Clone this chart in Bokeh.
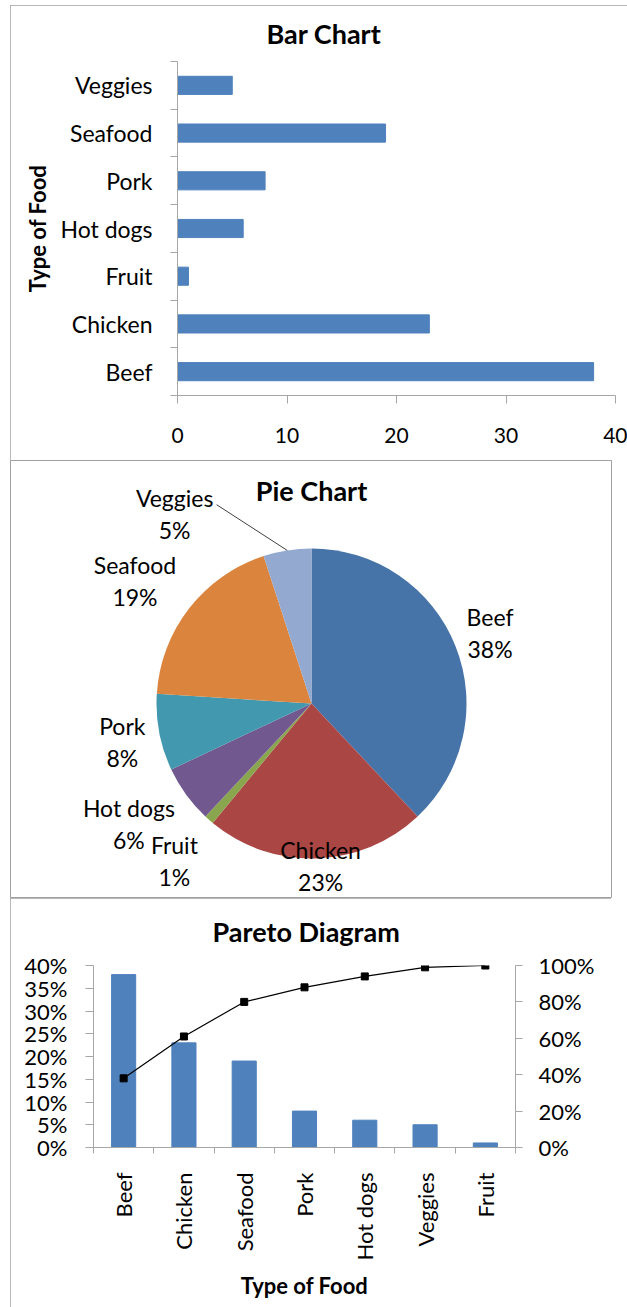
import math
import numpy as np
from bokeh.plotting import figure
from bokeh.models import (ColumnDataSource, FactorRange, Range1d, LinearAxis,
                          FixedTicker, PrintfTickFormatter)
from bokeh.embed import file_html
from bokeh.resources import INLINE
from bokeh.core.properties import value

# ---------------- data ----------------
foods = ["Beef", "Chicken", "Fruit", "Hot dogs", "Pork", "Seafood", "Veggies"]
counts = [38, 23, 1, 6, 8, 19, 5]
bar_ticks = [0, 10, 20, 30, 40]

pie_names = ["Beef", "Chicken", "Fruit", "Hot dogs", "Pork", "Seafood", "Veggies"]
pie_pct = [38, 23, 1, 6, 8, 19, 5]
pie_colors = ["#4673A8", "#AA4643", "#89A54E", "#71588F", "#4198AF", "#DB843D", "#93A9CF"]

pareto_cats = ["Beef", "Chicken", "Seafood", "Pork", "Hot dogs", "Veggies", "Fruit"]
pareto_pct = [38, 23, 19, 8, 6, 5, 1]
pareto_cum = [38, 61, 80, 88, 94, 99, 100]
pareto_left_ticks = [0, 5, 10, 15, 20, 25, 30, 35, 40]
pareto_right_ticks = [0, 20, 40, 60, 80, 100]

# ---------------- style ----------------
FONT = "Lato"
GRAY = "#a6a6a6"
BORDER = "#a0a0a0"
BAR = "#4F81BD"
OUTLINE = {"outline": "1px solid " + BORDER, "outline-offset": "-1px"}


def overrides(centers, names):
    d = {}
    for c, n in zip(centers, names):
        d[c] = n
        d[str(c)] = n
    return d


def style_title(p, text, offset, standoff, valign):
    p.title.text = text
    p.title.align = "left"
    p.title.offset = offset
    p.title.standoff = standoff
    p.title.vertical_align = valign
    p.title.text_font = FONT
    p.title.text_font_size = "27px"
    p.title.text_font_style = "bold"
    p.title.text_color = "black"


# ---------------- Bar chart ----------------
src1 = ColumnDataSource(dict(food=foods, count=counts))
n1 = len(foods)
p1 = figure(width=617, height=455, x_range=Range1d(0, 40), y_range=FactorRange(factors=foods),
            output_backend="svg", toolbar_location=None,
            x_axis_location=None, y_axis_location=None,
            min_border_left=167, min_border_right=12, min_border_top=0, min_border_bottom=65,
            outline_line_color=None,
            styles=dict(OUTLINE, **{"margin-left": "10px", "margin-top": "5px"}))
p1.xgrid.visible = False
p1.ygrid.visible = False
p1.hbar(y="food", left=0, right="count", height=0.38, source=src1,
        fill_color=BAR, line_color=BAR)
style_title(p1, "Bar Chart", 89, 21, "middle")

xax1 = LinearAxis(ticker=FixedTicker(ticks=bar_ticks),
                  axis_line_color=GRAY, major_tick_line_color=GRAY,
                  major_tick_out=8, major_tick_in=0, minor_tick_out=0, minor_tick_in=0,
                  major_label_standoff=24, major_label_text_font=FONT,
                  major_label_text_font_size="21px", major_label_text_color="black")
p1.add_layout(xax1, "below")

# category axis: labels at factor centres, tick marks at the boundaries
c1 = [i + 0.5 for i in range(n1)]
yax1 = LinearAxis(ticker=FixedTicker(ticks=c1, minor_ticks=list(range(n1 + 1))),
                  major_label_overrides=overrides(c1, foods),
                  axis_line_color=GRAY, minor_tick_line_color=GRAY,
                  major_tick_out=0, major_tick_in=0, minor_tick_out=7, minor_tick_in=0,
                  major_label_standoff=18, major_label_text_font=FONT,
                  major_label_text_font_size="23px", major_label_text_color="black",
                  axis_label="Type of Food", axis_label_standoff=7,
                  axis_label_text_font=FONT, axis_label_text_font_size="22px",
                  axis_label_text_font_style="bold", axis_label_text_color="black")
p1.add_layout(yax1, "left")

# ---------------- Pie chart ----------------
PW, PH = 602, 438
CX, CY, R = 301, 195, 155
fr = np.array(pie_pct, dtype=float) / float(sum(pie_pct))
ends = np.pi / 2 - 2 * np.pi * np.cumsum(fr)
starts = ends + 2 * np.pi * fr
mids = (starts + ends) / 2
src2 = ColumnDataSource(dict(name=pie_names, color=pie_colors, start=starts, end=ends))

p2 = figure(width=PW, height=PH, x_range=Range1d(0, PW), y_range=Range1d(0, PH),
            output_backend="svg", toolbar_location=None, title=None,
            x_axis_location=None, y_axis_location=None, min_border=0,
            outline_line_color=BORDER, styles={"margin-left": "10px"})
p2.xgrid.visible = False
p2.ygrid.visible = False
p2.wedge(x=CX, y=CY, radius=R, start_angle="start", end_angle="end", direction="clock",
         fill_color="color", line_color=None, source=src2)

LABEL_DIST = [192, 163, 209, 219, 193, 215, 234]
LABEL_ADJ = np.radians([0, 1.4, 0.4, -2.5, 0.6, 3.0, 26.8])
la = mids + LABEL_ADJ
lx = CX + np.array(LABEL_DIST) * np.cos(la)
ly = CY + np.array(LABEL_DIST) * np.sin(la)
pie_text = dict(text_font=value(FONT), text_font_size=value("23px"), text_color="black",
                text_align="center", text_baseline="middle")
p2.text(x=lx, y=ly + 16, text=pie_names, **pie_text)
p2.text(x=lx, y=ly - 16, text=[f"{v}%" for v in pie_pct], **pie_text)
# leader line for the last (smallest, top) label
iv = len(pie_names) - 1
p2.line(x=[lx[iv] + 42, CX + R * np.cos(mids[iv])],
        y=[ly[iv] + 9, CY + R * np.sin(mids[iv])], line_color="#404040", line_width=1)
p2.text(x=[CX], y=[408], text=["Pie Chart"], text_font=value(FONT),
        text_font_size=value("27px"), text_font_style="bold", text_color="black",
        text_align="center", text_baseline="middle")

# ---------------- Pareto diagram ----------------
src3 = ColumnDataSource(dict(cat=pareto_cats, pct=pareto_pct, cum=pareto_cum))
n3 = len(pareto_cats)
p3 = figure(width=601, height=409, x_range=FactorRange(factors=pareto_cats), y_range=Range1d(0, 40),
            output_backend="svg", toolbar_location=None,
            x_axis_location=None, y_axis_location=None,
            min_border_left=83, min_border_right=96, min_border_top=0, min_border_bottom=160,
            outline_line_color=None,
            styles=dict(OUTLINE, **{"margin-left": "10px"}))
p3.xgrid.visible = False
p3.ygrid.visible = False
p3.extra_y_ranges = {"cum": Range1d(0, 100)}

p3.vbar(x="cat", top="pct", width=0.4, source=src3, fill_color=BAR, line_color=BAR)
p3.line(x="cat", y="cum", y_range_name="cum", source=src3, line_color="black", line_width=1.2)
p3.scatter(x="cat", y="cum", y_range_name="cum", source=src3, marker="square", size=7,
           fill_color="black", line_color="black")
style_title(p3, "Pareto Diagram", 119, 32, "top")

tick_style = dict(major_label_text_font=FONT, major_label_text_font_size="22px",
                  major_label_text_color="black", axis_line_color=GRAY,
                  major_tick_line_color=GRAY, minor_tick_out=0, minor_tick_in=0,
                  major_tick_in=0)
lax = LinearAxis(ticker=FixedTicker(ticks=pareto_left_ticks),
                 formatter=PrintfTickFormatter(format="%d%%"),
                 major_tick_out=8, major_label_standoff=18, **tick_style)
p3.add_layout(lax, "left")
rax = LinearAxis(y_range_name="cum", ticker=FixedTicker(ticks=pareto_right_ticks),
                 formatter=PrintfTickFormatter(format="%d%%"),
                 major_tick_out=7, major_label_standoff=16, **tick_style)
p3.add_layout(rax, "right")

c3 = [i + 0.5 for i in range(n3)]
bax = LinearAxis(ticker=FixedTicker(ticks=c3, minor_ticks=list(range(n3 + 1))),
                 major_label_overrides=overrides(c3, pareto_cats),
                 axis_line_color=GRAY, minor_tick_line_color=GRAY,
                 major_tick_out=0, major_tick_in=0, minor_tick_out=6, minor_tick_in=0,
                 major_label_orientation=math.pi / 2, major_label_standoff=19,
                 major_label_text_font=FONT, major_label_text_font_size="22px",
                 major_label_text_color="black",
                 axis_label="Type of Food", axis_label_standoff=9,
                 axis_label_text_font=FONT, axis_label_text_font_size="22px",
                 axis_label_text_font_style="bold", axis_label_text_color="black")
p3.add_layout(bax, "below")

open("out.html", "w").write(file_html([p1, p2, p3], INLINE))
